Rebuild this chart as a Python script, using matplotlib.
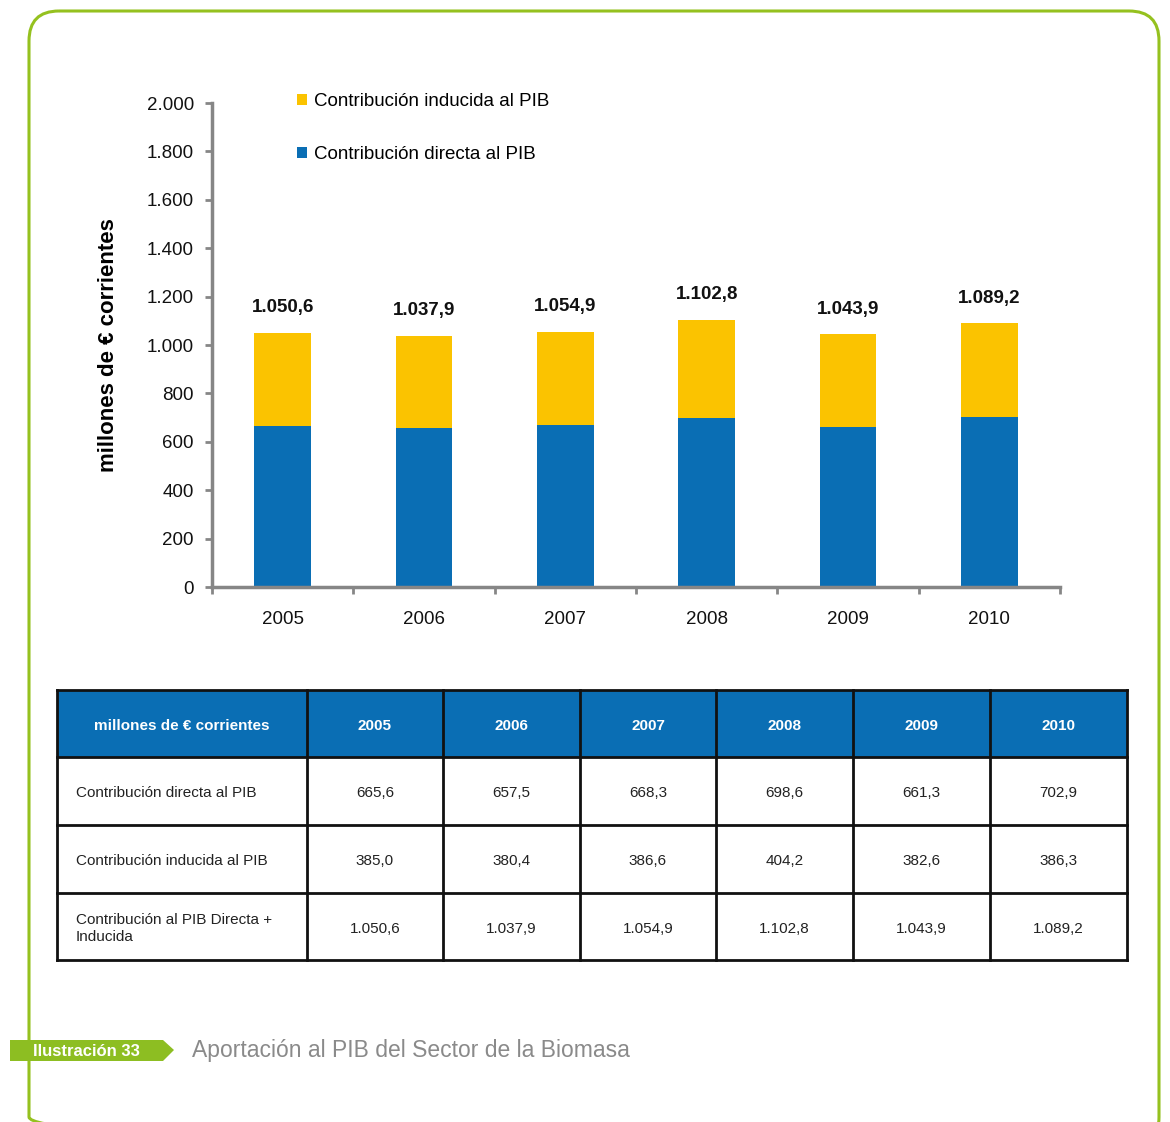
import numpy as np
import matplotlib.pyplot as plt
from matplotlib.patches import FancyBboxPatch, Rectangle, Polygon

plt.rcParams['font.family'] = ['Liberation Sans', 'DejaVu Sans']

# datos (millones de € corrientes)
years = ['2005', '2006', '2007', '2008', '2009', '2010']
directa = [665.6, 657.5, 668.3, 698.6, 661.3, 702.9]
inducida = [385.0, 380.4, 386.6, 404.2, 382.6, 386.3]
total = [1050.6, 1037.9, 1054.9, 1102.8, 1043.9, 1089.2]

row_labels = ['Contribución directa al PIB',
              'Contribución inducida al PIB',
              'Contribución al PIB Directa +\nInducida']

BLUE = '#0A6EB4'
YELLOW = '#FBC300'
GREEN = '#95C11F'
GREY = '#868686'


def es(v, dec=1):
    s = f"{v:,.{dec}f}"
    return s.replace(',', 'X').replace('.', ',').replace('X', '.')


W, H = 1170, 1122
fig = plt.figure(figsize=(W / 100, H / 100), dpi=100)

# fondo en pixeles: marco, tabla, pie
bg = fig.add_axes([0, 0, 1, 1], zorder=-1)
bg.set_xlim(0, W)
bg.set_ylim(H, 0)
bg.axis('off')

frame = FancyBboxPatch((29, 11), 1130, 1136, boxstyle="round,pad=0,rounding_size=30",
                       fill=False, ec=GREEN, lw=2.2)
bg.add_patch(frame)

# grafico
ax = fig.add_axes([212 / W, 1 - 587 / H, 848 / W, 484 / H])
ax.set_facecolor('none')
x = np.arange(len(years))
ax.bar(x, directa, width=0.4, color=BLUE, label='Contribución directa al PIB', zorder=2)
ax.bar(x, inducida, width=0.4, bottom=directa, color=YELLOW,
       label='Contribución inducida al PIB', zorder=2)
for xi, t in zip(x, total):
    ax.annotate(es(t), (xi, t), xytext=(0, 12), textcoords='offset points',
                ha='center', va='bottom', fontsize=13.5, fontweight='bold', color='#111111')

ax.set_xlim(-0.5, len(years) - 0.5)
ax.set_ylim(0, 2000)
ax.set_yticks(np.arange(0, 2001, 200))
ax.set_yticklabels([es(v, 0) for v in np.arange(0, 2001, 200)], fontsize=13.5, color='#111111')
ax.set_xticks(np.arange(-0.5, len(years), 1))
ax.set_xticklabels([])
ax.set_xticks(x, minor=True)
ax.set_xticklabels(years, minor=True, fontsize=13.5, color='#111111')
ax.tick_params(axis='x', which='minor', length=0, pad=17)
ax.tick_params(axis='x', which='major', length=5, width=2, color=GREY, direction='out')
ax.tick_params(axis='y', length=5, width=2, color=GREY, direction='out', pad=8)
for s in ['top', 'right']:
    ax.spines[s].set_visible(False)
for s in ['left', 'bottom']:
    ax.spines[s].set_color(GREY)
    ax.spines[s].set_linewidth(2.5)
ax.set_ylabel('millones de € corrientes', fontsize=16, fontweight='bold', labelpad=20)

h, l = ax.get_legend_handles_labels()
ax.legend(h[::-1], l[::-1], loc='upper left', bbox_to_anchor=(0.08, 1.055), frameon=False,
          fontsize=13.5, handlelength=0.55, handleheight=0.55, handletextpad=0.35,
          labelspacing=1.9)

# tabla
col_edges = [57, 307, 443, 580, 716, 853, 990, 1127]
row_edges = [690, 757, 825, 893, 960]
bg.add_patch(Rectangle((col_edges[0], row_edges[0]), col_edges[-1] - col_edges[0],
                       row_edges[1] - row_edges[0], color=BLUE, lw=0))
for cx in col_edges:
    bg.plot([cx, cx], [row_edges[0], row_edges[-1]], color='#111111', lw=2)
for ry in row_edges:
    bg.plot([col_edges[0], col_edges[-1]], [ry, ry], color='#111111', lw=2)

yc = [(row_edges[i] + row_edges[i + 1]) / 2 for i in range(4)]
bg.text((col_edges[0] + col_edges[1]) / 2, yc[0] + 2, 'millones de € corrientes', ha='center',
        va='center', color='white', fontweight='bold', fontsize=11)
for j, yr in enumerate(years):
    bg.text((col_edges[j + 1] + col_edges[j + 2]) / 2, yc[0] + 2, yr, ha='center', va='center',
            color='white', fontweight='bold', fontsize=11)
for i, (lab, vals) in enumerate(zip(row_labels, [directa, inducida, total])):
    bg.text(76, yc[i + 1] + 2, lab, ha='left', va='center', fontsize=11, color='#222222',
            linespacing=1.25)
    for j, v in enumerate(vals):
        bg.text((col_edges[j + 1] + col_edges[j + 2]) / 2, yc[i + 1] + 2, es(v), ha='center',
                va='center', fontsize=11, color='#222222')

# pie de figura
bg.add_patch(Polygon([(10, 1040), (163, 1040), (174, 1050), (163, 1061), (10, 1061)],
                     closed=True, color='#8DBE22', lw=0, zorder=3))
bg.text(33, 1051, 'Ilustración 33', ha='left', va='center', color='white', fontweight='bold',
        fontsize=12, zorder=4)
bg.text(192, 1051, 'Aportación al PIB del Sector de la Biomasa', ha='left', va='center',
        color='#8A8A8A', fontsize=16.5)

fig.savefig('out.png', dpi=100)
